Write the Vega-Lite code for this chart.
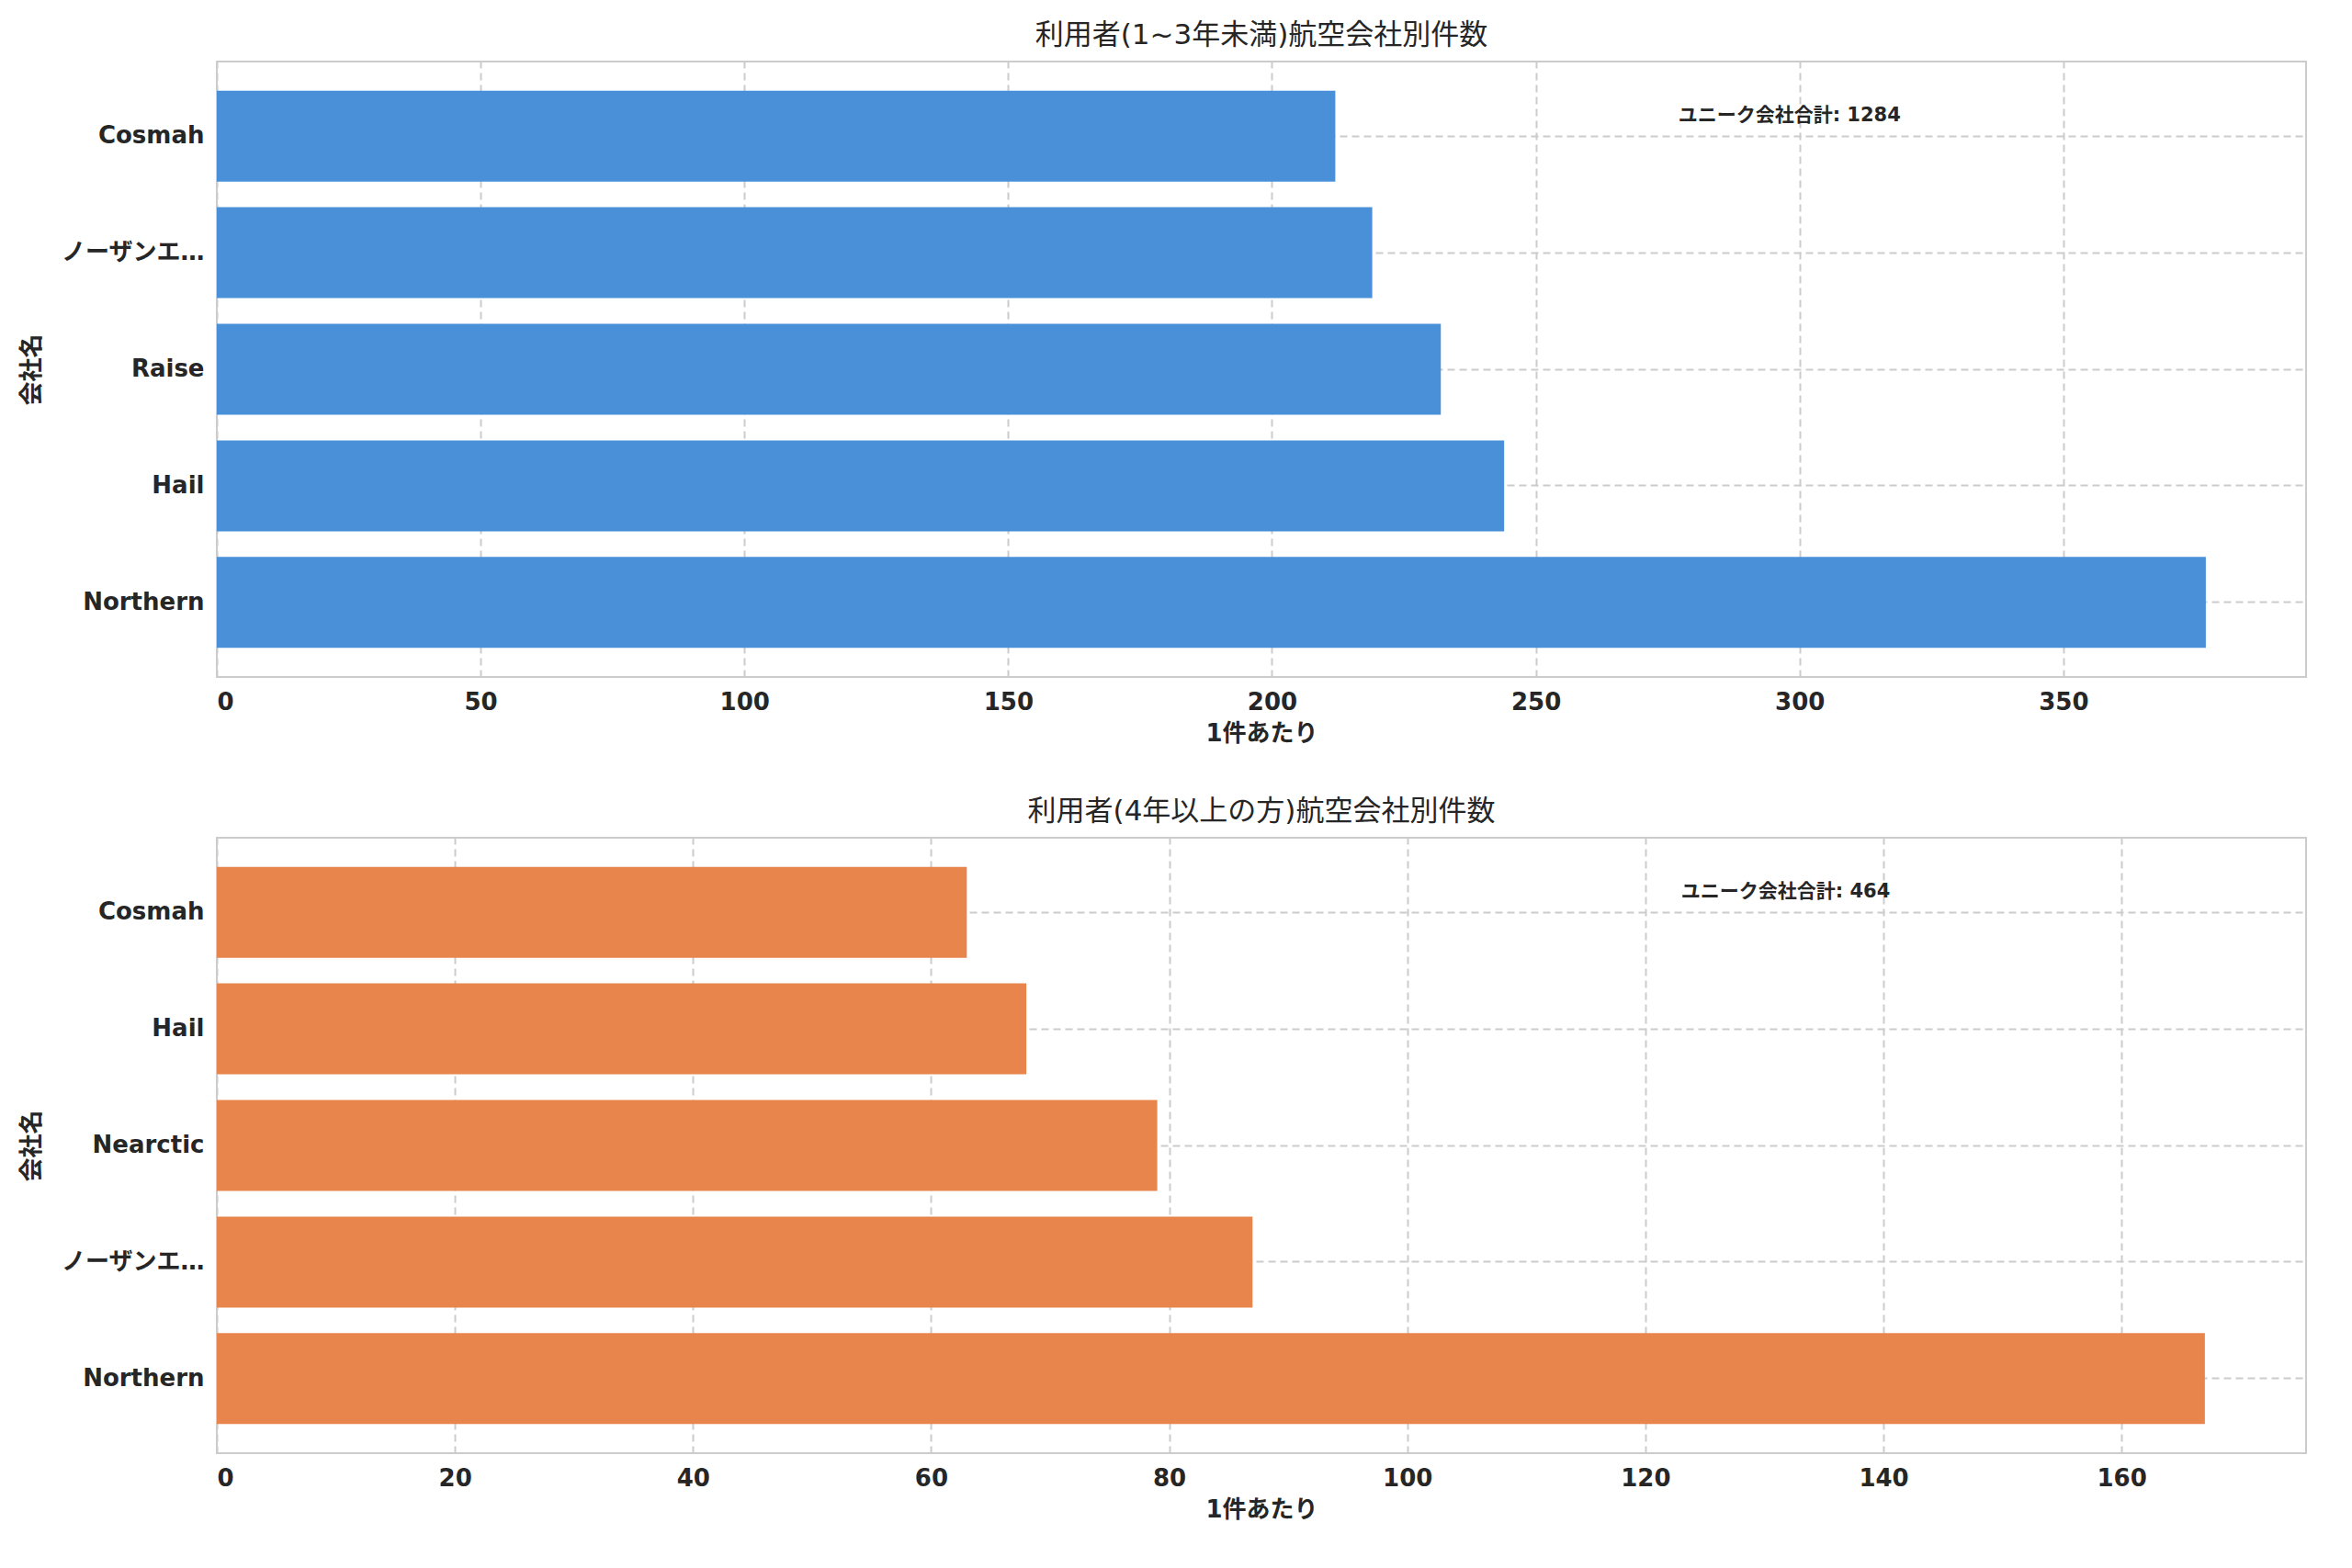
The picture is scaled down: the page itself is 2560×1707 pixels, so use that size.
{
  "$schema": "https://vega.github.io/schema/vega-lite/v6.json",
  "background": "white",
  "padding": {"left": 20, "top": 22, "right": 30, "bottom": 10},
  "spacing": 55,
  "datasets": {
    "top": [
      {"company": "Cosmah", "count": 212},
      {"company": "ノーザンエアライン", "count": 219},
      {"company": "Raise", "count": 232},
      {"company": "Hail", "count": 244},
      {"company": "Northern", "count": 377}
    ],
    "bottom": [
      {"company": "Cosmah", "count": 63},
      {"company": "Hail", "count": 68},
      {"company": "Nearctic", "count": 79},
      {"company": "ノーザンエアライン", "count": 87},
      {"company": "Northern", "count": 167}
    ],
    "noteTop": [{"x": 277, "company": "Cosmah", "label": "ユニーク会社合計: 1284"}],
    "noteBottom": [{"x": 123, "company": "Cosmah", "label": "ユニーク会社合計: 464"}]
  },
  "vconcat": [
    {
      "title": "利用者(1~3年未満)航空会社別件数",
      "width": 2274,
      "height": 670,
      "layer": [
        {
          "data": {"name": "top"},
          "mark": {"type": "bar", "color": "#4a90d9"},
          "encoding": {
            "y": {"field": "company", "type": "nominal", "sort": ["Cosmah", "ノーザンエアライン", "Raise", "Hail", "Northern"], "title": "会社名", "scale": {"paddingInner": 0.22, "paddingOuter": 0.25}},
            "x": {"field": "count", "type": "quantitative", "title": "1件あたり", "scale": {"domain": [0, 396], "nice": false}, "axis": {"values": [0, 50, 100, 150, 200, 250, 300, 350]}}
          }
        },
        {
          "data": {"name": "noteTop"},
          "mark": {"type": "text", "align": "left", "dy": -22, "fontSize": 21, "fontWeight": "bold", "color": "#262626"},
          "encoding": {
            "x": {"field": "x", "type": "quantitative"},
            "y": {"field": "company", "type": "nominal", "sort": ["Cosmah", "ノーザンエアライン", "Raise", "Hail", "Northern"]},
            "text": {"field": "label"}
          }
        }
      ]
    },
    {
      "title": "利用者(4年以上の方)航空会社別件数",
      "width": 2274,
      "height": 670,
      "layer": [
        {
          "data": {"name": "bottom"},
          "mark": {"type": "bar", "color": "#e8854c"},
          "encoding": {
            "y": {"field": "company", "type": "nominal", "sort": ["Cosmah", "Hail", "Nearctic", "ノーザンエアライン", "Northern"], "title": "会社名", "scale": {"paddingInner": 0.22, "paddingOuter": 0.25}},
            "x": {"field": "count", "type": "quantitative", "title": "1件あたり", "scale": {"domain": [0, 175.5], "nice": false}, "axis": {"values": [0, 20, 40, 60, 80, 100, 120, 140, 160]}}
          }
        },
        {
          "data": {"name": "noteBottom"},
          "mark": {"type": "text", "align": "left", "dy": -22, "fontSize": 21, "fontWeight": "bold", "color": "#262626"},
          "encoding": {
            "x": {"field": "x", "type": "quantitative"},
            "y": {"field": "company", "type": "nominal", "sort": ["Cosmah", "Hail", "Nearctic", "ノーザンエアライン", "Northern"]},
            "text": {"field": "label"}
          }
        }
      ]
    }
  ],
  "config": {
    "font": "DejaVu Sans, Noto Sans CJK JP",
    "view": {"stroke": "#cccccc", "strokeWidth": 2},
    "title": {"fontSize": 31, "fontWeight": "normal", "color": "#262626", "offset": 12},
    "axis": {
      "grid": true,
      "gridColor": "#cccccc",
      "gridDash": [8, 5],
      "gridWidth": 2,
      "domain": false,
      "ticks": false,
      "labelFontSize": 26,
      "labelFontWeight": "bold",
      "labelColor": "#262626",
      "labelPadding": 14,
      "titleFontSize": 26,
      "titleFontWeight": "bold",
      "titleColor": "#262626"
    },
    "axisY": {"titlePadding": 18, "bandPosition": 0.5},
    "axisX": {"titlePadding": 8}
  }
}
